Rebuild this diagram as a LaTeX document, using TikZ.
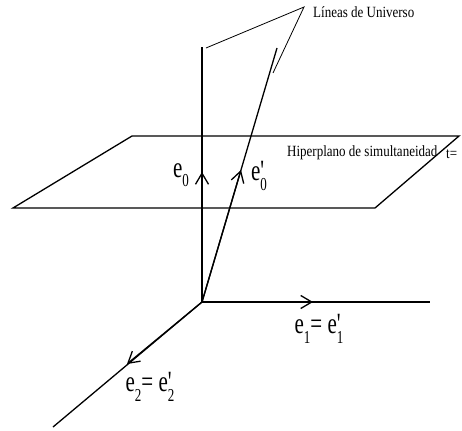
\documentclass[tikz,border=0pt]{standalone}
\usepackage{fontspec}
\setmainfont{Liberation Serif}
\usetikzlibrary{arrows.meta}
\newcommand\vsub[1]{\raisebox{-0.32em}{\fontsize{13}{13}\selectfont #1}}
\newcommand\vpr{\rlap{\textquotesingle}}
\begin{document}
\begin{tikzpicture}[x=1pt,y=-1pt,
  axis/.style={line width=1.3pt},
  vec/.style={line width=1.3pt,-{Straight Barb[length=11pt,width=13pt]}},
  pointer/.style={line width=0.8pt},
  small/.style={font=\fontsize{13}{13}\selectfont,inner sep=0pt},
  elabel/.style={font=\fontsize{21}{21}\selectfont,inner sep=0pt}]
\useasboundingbox (0,0) rectangle (462,430);
% coordinates
\coordinate (O) at (202,302);
\coordinate (T0) at (202,47);
\coordinate (A0) at (202,172);
\coordinate (W) at (277,48);
\coordinate (AW) at (241,170);
\coordinate (X1) at (430,302);
\coordinate (A1) at (313,302);
\coordinate (X2) at (53,427);
\coordinate (A2) at (127,364);
\coordinate (P1) at (132,136);
\coordinate (P2) at (459,136);
\coordinate (P3) at (375,208);
\coordinate (P4) at (13,208);
\coordinate (L) at (304,7);
\coordinate (L1) at (206,48);
\coordinate (L2) at (273,73);
% plane
\draw[axis] (P1) -- (P2) -- (P3) -- (P4) -- cycle;
% lines
\draw[axis] (O) -- (T0);
\draw[vec] (O) -- (A0);
\draw[axis] (O) -- (W);
\draw[vec] (O) -- (AW);
\draw[axis] (O) -- (X1);
\draw[vec] (O) -- (A1);
\draw[axis] (O) -- (X2);
\draw[vec] (O) -- (A2);
% pointers
\draw[pointer] (L1) -- (L) -- (L2);
% texts
\node[small,anchor=west] (tl) at (313,12) {\scalebox{1}[1.2]{Líneas de Universo}};
\node[small,anchor=west] (th) at (287,153) {\scalebox{1}[1.2]{Hiperplano de simultaneidad}};
\node[small,anchor=west] (tt) at (446,154) {\scalebox{1}[1.2]{t=}};
\node[elabel] (e0) at (181,175) {\scalebox{1}[1.4]{e\vsub{0}}};
\node[elabel] (e0p) at (259,176) {\scalebox{1}[1.4]{e\vpr\vsub{0}}};
\node[elabel] (e1) at (319,329) {\scalebox{1}[1.4]{e\vsub{1}= e\vpr\vsub{1}}};
\node[elabel] (e2) at (150,387) {\scalebox{1}[1.4]{e\vsub{2}= e\vpr\vsub{2}}};
\end{tikzpicture}
\end{document}
